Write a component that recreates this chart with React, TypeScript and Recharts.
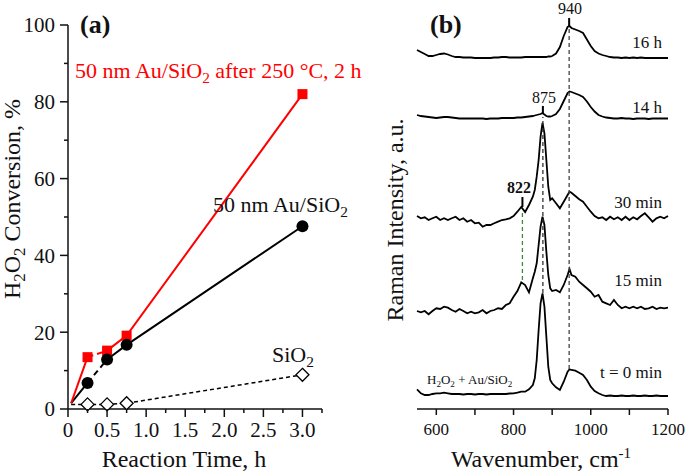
import { Line, LineChart, ReferenceLine, XAxis, YAxis } from "recharts";

const FONT = "'Liberation Serif', 'Times New Roman', serif";
const INK = "#111";

// (a) H2O2 conversion vs reaction time
const TIME_H = [0.04, 0.25, 0.5, 0.75, 3.0];
const CONV_AU_250C = [1.5, 13.5, 15.2, 19.1, 82.0];
const CONV_AU = [1.5, 6.8, 12.9, 16.7, 47.6];
const CONV_SIO2 = [1.2, 1.2, 1.2, 1.5, 8.9];
const TIME_TICKS = [0, 0.25, 0.5, 0.75, 1, 1.25, 1.5, 1.75, 2, 2.25, 2.5, 2.75, 3, 3.25];
const CONV_TICKS = [0, 10, 20, 30, 40, 50, 60, 70, 80, 90, 100];

// (b) Raman spectra, a.u. above each trace's own baseline
const WAVENUMBER = [
  550, 560, 570, 580, 590, 600, 610, 620, 630, 640, 650, 660, 670, 680, 690, 700, 710, 720, 730, 740, 750, 760, 770, 780, 790, 800, 810, 820, 830, 840, 850,
  855, 860, 865, 870, 875, 880, 885, 890, 895, 900,
  910, 920, 930, 940, 945, 950,
  960, 970, 980, 990, 1000, 1010, 1020, 1030, 1040, 1050, 1060, 1070, 1080, 1090, 1100, 1110, 1120, 1130, 1140, 1150, 1160, 1170, 1180, 1190, 1200,
];
const RAMAN_16H = [
  8, 6, 4, 2, 2, 3, 4, 4.5, 3.5, 2, 1, 1, 0.5, 0.5, 0.5, 0, 0, 0, 0, 0, 0.5, 0.5, 1, 1, 0.5, 0.5, 0.5, 0.5, 1, 1, 1,
  1, 1, 1, 1, 1, 1, 1, 1.5, 1.5, 2,
  4.5, 11, 22, 31, 32, 30,
  28.5, 27, 25, 18.5, 12, 7, 4.5, 3, 2, 1, 0.5, 0.5, 0, 0.5, 0, 0.5, 0, 0.5, 0, 0, 0, 0, 0, 0, 0,
];
const RAMAN_14H = [
  4, 3, 2.5, 2, 1.5, 1, 1.5, 2, 2, 1.5, 1, 0.5, 0.5, 0.5, 0.5, 0.5, 0.5, 0.5, 0, 0.5, 0.5, 0.5, 1, 1, 1, 1, 1.5, 1.5, 2, 2.5, 3,
  3.5, 4, 4.5, 5, 6, 4.5, 3, 2.5, 2.5, 3,
  5, 10, 18, 26, 27.5, 27,
  25.5, 24, 22, 17.5, 12, 7.5, 4, 2.5, 1.5, 1, 0.5, 0.5, 1, 0.5, 0.5, 0, 0.5, 0.5, 0.5, 0, 0.5, 0.5, 0.5, 0.5, 0.5,
];
const RAMAN_30MIN = [
  8, 5.7, 6.7, 4, 5.7, 7.3, 4, 5.7, 4, 5.7, 7.3, 4, 5.7, 2.3, 4, 0.7, 1.3, -2.7, -1, -1, 0.7, 2.3, 4, 4.7, 5.7, 8, 12.3, 17, 12, 19, 27.3,
  34, 47.3, 64, 87.3, 101, 90.7, 64, 37.3, 24, 25.7,
  20.7, 15.7, 22.3, 29, 32.3, 31.3,
  28, 24.7, 22.3, 17.3, 12.3, 8, 5.7, 6.7, 4, 7.3, 4.7, 6.7, 4, 7.3, 4, 6.7, 4.7, 8, 10.7, 6.7, 2.3, 5.7, 7.3, 5.7, 8,
];
const RAMAN_15MIN = [
  0, -1.3, 0, -3.3, 0, 2.7, 2, 4.3, 3.3, 1, -0.7, 2, 0, -2.3, -0.7, -2.3, -1.3, 1, -2.3, 0, 1, 2.7, 2, 6, 7.7, 14.3, 20, 28.7, 26, 18.7, 32.7,
  39.3, 47.7, 66, 84.3, 94.3, 86, 59.3, 36, 22.7, 20,
  21, 18.7, 26, 36, 42, 36,
  34.3, 29.3, 26, 22.7, 19.3, 14.3, 16, 9.3, 7.7, 6, 11, 6, 2.7, 4.3, 2.7, 4.3, 2.7, 4.3, 2, 2.7, 4.3, 2, 3.3, 2.7, 3.3,
];
const RAMAN_T0 = [
  6.7, 2.7, 1, 1, 2, 2.7, 2.7, 3.3, 2.7, 2, 2, 2, 1.5, 2, 2, 1.5, 2, 2, 1.5, 2, 2, 2, 2, 2, 2.5, 2.7, 3.3, 4.3, 4.3, 6.7, 11,
  17.7, 36, 66, 92.7, 102.7, 89.3, 59.3, 29.3, 16, 12.7,
  8.7, 6, 14.3, 24.3, 26.7, 26,
  25.3, 23.3, 21, 16, 9.3, 5, 2.7, 1, 0, 0.5, 0, 0, 0.5, 0, 0, 0.5, 0, 0, 0.5, 0, 0, 0.5, 0, 0, 0,
];
const WN_TICKS = [600, 700, 800, 900, 1000, 1100, 1200];

// vertical stacking of the traces
const OFFSET = { t0: 13, m15: 98, m30: 185, h14: 290, h16: 351 };

const seg = (vals: number[], i: number, from: number, to: number) => (i >= from && i <= to ? vals[i] : null);

const convRows = TIME_H.map((t, i) => ({
  t,
  redA: seg(CONV_AU_250C, i, 0, 1),
  redB: seg(CONV_AU_250C, i, 1, 2),
  redC: seg(CONV_AU_250C, i, 2, 4),
  redPt: i > 0 ? CONV_AU_250C[i] : null,
  blkA: seg(CONV_AU, i, 0, 1),
  blkB: seg(CONV_AU, i, 1, 2),
  blkC: seg(CONV_AU, i, 2, 4),
  blkPt: i > 0 ? CONV_AU[i] : null,
  sio2: CONV_SIO2[i],
  sio2Pt: i > 0 ? CONV_SIO2[i] : null,
}));

const spectraRows = WAVENUMBER.map((w, i) => ({
  w,
  t0: RAMAN_T0[i] + OFFSET.t0,
  m15: RAMAN_15MIN[i] + OFFSET.m15,
  m30: RAMAN_30MIN[i] + OFFSET.m30,
  h14: RAMAN_14H[i] + OFFSET.h14,
  h16: RAMAN_16H[i] + OFFSET.h16,
}));

const TICK_LEN = 8;
const TICK_MINOR = 4;
const TICK_GAP = 5;

function TimeTick(props: any) {
  const { x, y, payload } = props;
  const v = payload.value as number;
  const major = Math.abs(v * 2 - Math.round(v * 2)) < 1e-6 && v <= 3;
  const axisY = y - TICK_LEN - TICK_GAP;
  return (
    <g>
      <line x1={x} x2={x} y1={axisY} y2={axisY + (major ? TICK_LEN : TICK_MINOR)} stroke={INK} strokeWidth={1.5} />
      {major ? (
        <text x={x} y={y} dy="0.71em" textAnchor="middle" fontFamily={FONT} fontSize={21} fill={INK}>
          {v === 0 ? "0" : v.toFixed(1)}
        </text>
      ) : null}
    </g>
  );
}

function ConvTick(props: any) {
  const { x, y, payload } = props;
  const v = payload.value as number;
  const major = v % 20 === 0;
  const axisX = x + TICK_LEN + TICK_GAP;
  return (
    <g>
      <line x1={axisX - (major ? TICK_LEN : TICK_MINOR)} x2={axisX} y1={y} y2={y} stroke={INK} strokeWidth={1.5} />
      {major ? (
        <text x={x} y={y} dy="0.355em" textAnchor="end" fontFamily={FONT} fontSize={21} fill={INK}>
          {v}
        </text>
      ) : null}
    </g>
  );
}

const WN_TICK = 6;
const WN_GAP = 8;

function WnTick(props: any) {
  const { x, y, payload } = props;
  const v = payload.value as number;
  const axisY = y - WN_TICK - WN_GAP;
  return (
    <g>
      <line x1={x} x2={x} y1={axisY} y2={axisY + WN_TICK} stroke={INK} strokeWidth={1.5} />
      {v % 200 === 0 ? (
        <text x={x} y={y} dy="0.71em" textAnchor="middle" fontFamily={FONT} fontSize={17} fill={INK}>
          {v}
        </text>
      ) : null}
    </g>
  );
}

const square = (p: any) =>
  p.cx == null || p.cy == null ? <g key={p.index} /> : <rect key={p.index} x={p.cx - 5} y={p.cy - 5} width={10} height={10} fill="#ff0000" />;
const circle = (p: any) =>
  p.cx == null || p.cy == null ? <g key={p.index} /> : <circle key={p.index} cx={p.cx} cy={p.cy} r={6} fill="#000" />;
const diamond = (p: any) =>
  p.cx == null || p.cy == null ? (
    <g key={p.index} />
  ) : (
    <path key={p.index} d={`M${p.cx},${p.cy - 6.5}L${p.cx + 6.5},${p.cy}L${p.cx},${p.cy + 6.5}L${p.cx - 6.5},${p.cy}Z`} fill="#fff" stroke="#000" strokeWidth={1.3} />
  );

// text with chemical subscripts: odd-indexed parts are lowered and shrunk
function Chem({ parts, size }: { parts: string[]; size: number }) {
  const shift = size * 0.22;
  return (
    <>
      {parts.map((s, i) =>
        i % 2 === 1 ? (
          <tspan key={i} dy={shift} fontSize={size * 0.7}>
            {s}
          </tspan>
        ) : (
          <tspan key={i} dy={i > 0 ? -shift : 0}>
            {s}
          </tspan>
        ),
      )}
    </>
  );
}

function ConversionPanel() {
  return (
    <LineChart width={360} height={474} data={convRows} margin={{ top: 25, right: 38, bottom: 35, left: 28 }}>
      <XAxis
        dataKey="t"
        type="number"
        domain={[0, 3.25]}
        ticks={TIME_TICKS}
        interval={0}
        tickSize={TICK_LEN}
        tickMargin={TICK_GAP}
        tickLine={false}
        tick={<TimeTick />}
        height={30}
        axisLine={{ stroke: INK, strokeWidth: 1.5 }}
      />
      <YAxis
        type="number"
        domain={[0, 100]}
        ticks={CONV_TICKS}
        interval={0}
        tickSize={TICK_LEN}
        tickMargin={TICK_GAP}
        tickLine={false}
        tick={<ConvTick />}
        width={40}
        axisLine={{ stroke: INK, strokeWidth: 1.5 }}
      />
      <Line dataKey="sio2" stroke="#000" strokeWidth={1.5} strokeDasharray="4 3" dot={false} isAnimationActive={false} />
      <Line dataKey="blkA" stroke="#000" strokeWidth={2} dot={false} isAnimationActive={false} />
      <Line dataKey="blkB" stroke="#000" strokeWidth={2} strokeDasharray="6 4" dot={false} isAnimationActive={false} />
      <Line dataKey="blkC" stroke="#000" strokeWidth={2} dot={false} isAnimationActive={false} />
      <Line dataKey="redA" stroke="#ff0000" strokeWidth={2} dot={false} isAnimationActive={false} />
      <Line dataKey="redB" stroke="#ff0000" strokeWidth={2} strokeDasharray="6 4" dot={false} isAnimationActive={false} />
      <Line dataKey="redC" stroke="#ff0000" strokeWidth={2} dot={false} isAnimationActive={false} />
      <Line dataKey="sio2Pt" stroke="none" dot={diamond} isAnimationActive={false} />
      <Line dataKey="redPt" stroke="none" dot={square} isAnimationActive={false} />
      <Line dataKey="blkPt" stroke="none" dot={circle} isAnimationActive={false} />
    </LineChart>
  );
}

function RamanPanel() {
  const trace = { stroke: "#000", strokeWidth: 1.8, dot: false, isAnimationActive: false, type: "linear" as const };
  return (
    <LineChart width={685} height={474} data={spectraRows} margin={{ top: 25, right: 17, bottom: 35, left: 417 }}>
      <XAxis
        dataKey="w"
        type="number"
        domain={[550, 1200]}
        ticks={WN_TICKS}
        interval={0}
        tickSize={WN_TICK}
        tickMargin={WN_GAP}
        tickLine={false}
        tick={<WnTick />}
        axisLine={{ stroke: INK, strokeWidth: 1.5 }}
        height={30}
      />
      <YAxis type="number" domain={[0, 384]} width={0} tick={false} tickLine={false} axisLine={{ stroke: INK, strokeWidth: 1.5 }} />
      <Line dataKey="t0" {...trace} />
      <Line dataKey="m15" {...trace} />
      <Line dataKey="m30" {...trace} />
      <Line dataKey="h14" {...trace} />
      <Line dataKey="h16" {...trace} />
      <ReferenceLine segment={[{ x: 944, y: 40 }, { x: 944, y: 382 }]} stroke="#444" strokeWidth={1.3} strokeDasharray="4 3" ifOverflow="visible" />
      <ReferenceLine segment={[{ x: 944, y: 382 }, { x: 944, y: 391 }]} stroke="#000" strokeWidth={2} ifOverflow="visible" />
      <ReferenceLine segment={[{ x: 876, y: 116 }, { x: 876, y: 292 }]} stroke="#333" strokeWidth={1.3} strokeDasharray="4 3" ifOverflow="visible" />
      <ReferenceLine segment={[{ x: 876, y: 296 }, { x: 876, y: 303 }]} stroke="#000" strokeWidth={2} ifOverflow="visible" />
      <ReferenceLine segment={[{ x: 823, y: 129 }, { x: 823, y: 198 }]} stroke="#3c8c3c" strokeWidth={1.3} strokeDasharray="4 3" ifOverflow="visible" />
      <ReferenceLine segment={[{ x: 823, y: 202 }, { x: 823, y: 212 }]} stroke="#000" strokeWidth={2} ifOverflow="visible" />
    </LineChart>
  );
}

export default function App() {
  return (
    <div style={{ position: "absolute", left: 0, top: 0, width: 685, height: 474, background: "#fff", overflow: "hidden" }}>
      <div style={{ position: "absolute", left: 0, top: 0 }}>
        <RamanPanel />
      </div>
      <div style={{ position: "absolute", left: 0, top: 0 }}>
        <ConversionPanel />
      </div>
      <svg width={685} height={474} style={{ position: "absolute", left: 0, top: 0, pointerEvents: "none" }} fontFamily={FONT} fill={INK}>
        <text x={80} y={33} fontSize={26} fontWeight="bold">(a)</text>
        <text x={75} y={78} fontSize={22} fill="#ff0000">
          <Chem size={22} parts={["50 nm Au/SiO", "2", " after 250 °C, 2 h"]} />
        </text>
        <text x={213} y={212} fontSize={22}>
          <Chem size={22} parts={["50 nm Au/SiO", "2"]} />
        </text>
        <text x={272} y={362} fontSize={22}>
          <Chem size={22} parts={["SiO", "2"]} />
        </text>
        <text x={184} y={467} fontSize={24} textAnchor="middle">Reaction Time, h</text>
        <text x={20} y={199} fontSize={24} textAnchor="middle" transform="rotate(-90 20 199)">
          <Chem size={24} parts={["H", "2", "O", "2", " Conversion, %"]} />
        </text>

        <text x={430} y={33} fontSize={26} fontWeight="bold">(b)</text>
        <text x={570} y={14} fontSize={16} textAnchor="middle">940</text>
        <text x={544} y={103} fontSize={16} textAnchor="middle">875</text>
        <text x={519} y={193} fontSize={16} fontWeight="bold" textAnchor="middle">822</text>
        <text x={662} y={48} fontSize={17} textAnchor="end">16 h</text>
        <text x={662} y={113} fontSize={17} textAnchor="end">14 h</text>
        <text x={662} y={208} fontSize={17} textAnchor="end">30 min</text>
        <text x={662} y={286} fontSize={17} textAnchor="end">15 min</text>
        <text x={662} y={378} fontSize={17} textAnchor="end">t = 0 min</text>
        <text x={427} y={384} fontSize={13}>
          <Chem size={13} parts={["H", "2", "O", "2", " + Au/SiO", "2"]} />
        </text>
        <text x={403} y={220} fontSize={24} textAnchor="middle" transform="rotate(-90 403 220)">Raman Intensity, a.u.</text>
        <text x={541} y={467} fontSize={24} textAnchor="middle">
          Wavenumber, cm<tspan dy={-9} fontSize={15}>-1</tspan>
        </text>
      </svg>
    </div>
  );
}
